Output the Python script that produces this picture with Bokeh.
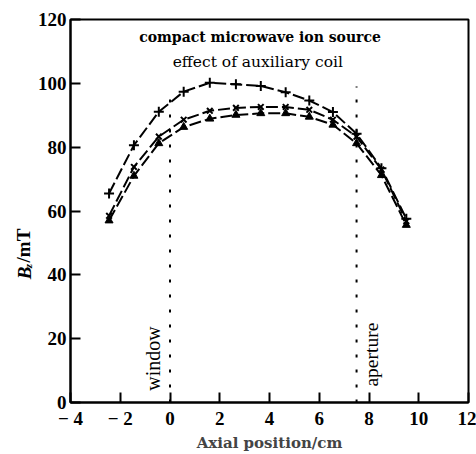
import math
from bokeh.plotting import figure
from bokeh.layouts import row
from bokeh.models import FixedTicker, Label, Range1d
from bokeh.core.properties import value
from bokeh.embed import file_html
from bokeh.resources import INLINE

# ---- data ----
x_pos = [-2.45, -1.45, -0.45, 0.55, 1.6, 2.65, 3.65, 4.65, 5.6, 6.55, 7.5, 8.5, 9.5]
b_plus = [65.5, 80.6, 91.1, 97.4, 100.2, 99.7, 99.2, 97.2, 94.6, 91.0, 84.2, 73.4, 57.6]
b_cross = [58.5, 73.8, 83.3, 88.6, 91.4, 92.3, 92.6, 92.6, 91.7, 88.6, 83.3, 73.0, 56.8]
b_tri = [57.0, 71.0, 81.2, 86.3, 88.9, 90.1, 90.6, 90.6, 89.5, 87.0, 81.2, 71.2, 55.6]

x_ticks = [-4, -2, 0, 2, 4, 6, 8, 10, 12]
y_ticks = [0, 20, 40, 60, 80, 100, 120]
window_x = 0.0
aperture_x = 7.5

FONT = "DejaVu Serif"
TFONT = "Liberation Serif"

LW = 34   # width of the strip holding the y-axis title
H = 454

p = figure(width=476 - LW, height=H, output_backend="svg", toolbar_location=None,
           x_range=Range1d(-4, 12), y_range=Range1d(0, 120),
           min_border_left=69 - LW, min_border_right=8, min_border_top=19, min_border_bottom=49)

p.xgrid.visible = False
p.ygrid.visible = False
p.outline_line_color = "black"
p.outline_line_width = 2
p.background_fill_color = "white"
p.border_fill_color = "white"

for ax in (p.xaxis[0], p.yaxis[0]):
    ax.axis_line_width = 2
    ax.axis_line_color = "black"
    ax.major_tick_in = 10
    ax.major_tick_out = 0
    ax.major_tick_line_width = 2
    ax.minor_tick_line_color = None
    ax.major_label_text_font = TFONT
    ax.major_label_text_font_style = "bold"
    ax.major_label_text_font_size = "19px"
    ax.major_label_text_color = "black"

p.xaxis.ticker = FixedTicker(ticks=x_ticks)
p.yaxis.ticker = FixedTicker(ticks=y_ticks)
p.xaxis.major_label_overrides = {-4: "\u2212 4", -2: "\u2212 2"}
p.xaxis.major_label_standoff = 5
p.yaxis.major_label_standoff = 4

p.xaxis.axis_label = "Axial position/cm"
p.xaxis.axis_label_text_font = FONT
p.xaxis.axis_label_text_font_style = "bold"
p.xaxis.axis_label_text_font_size = "15px"
p.xaxis.axis_label_standoff = 2
p.yaxis.axis_label = None

# dotted markers for window / aperture
p.segment(x0=[window_x, aperture_x], y0=[0, 0], x1=[window_x, aperture_x], y1=[97.8, 99.0],
          line_color="black", line_width=2, line_dash="3 12")

dash = "12 4"
# + series
p.line(x_pos, b_plus, line_color="black", line_width=2, line_dash=dash)
p.scatter(x_pos, b_plus, marker="cross", size=10, line_color="black", line_width=2)
# x series
p.line(x_pos, b_cross, line_color="black", line_width=2, line_dash=dash)
p.scatter(x_pos, b_cross, marker="x", size=8, line_color="black", line_width=2)
# triangle series
p.line(x_pos, b_tri, line_color="black", line_width=2, line_dash=dash)
p.scatter(x_pos, b_tri, marker="triangle", size=8, line_color="black",
          fill_color="black", line_width=1)

# texts in the plot
p.add_layout(Label(x=3.62, y=114.4, text="compact microwave ion source", text_font=FONT,
                   text_font_style="bold", text_font_size="14px", text_align="center",
                   text_baseline="middle", text_color="black"))
p.add_layout(Label(x=3.53, y=106.6, text="effect of auxiliary coil", text_font=FONT,
                   text_font_size="15.5px", text_align="center",
                   text_baseline="middle", text_color="black"))
p.add_layout(Label(x=-0.67, y=3.7, text="window", text_font=TFONT, angle=math.pi / 2,
                   text_font_size="20px", text_align="left", text_baseline="middle",
                   text_color="black"))
p.add_layout(Label(x=8.12, y=5.0, text="aperture", text_font=TFONT, angle=math.pi / 2,
                   text_font_size="19.5px", text_align="left", text_baseline="middle",
                   text_color="black"))

# strip on the left carrying the y-axis title  B_z / mT
q = figure(width=LW, height=H, output_backend="svg", toolbar_location=None,
           x_range=Range1d(0, LW), y_range=Range1d(0, H),
           x_axis_type=None, y_axis_type=None, min_border=0)
q.xgrid.visible = False
q.ygrid.visible = False
q.outline_line_color = None
q.background_fill_color = "white"
q.border_fill_color = "white"
q.text(x=[24], y=[H - 308], text=["B"], angle=math.pi / 2, text_font=value(TFONT),
       text_font_style="bold italic", text_font_size="19px", text_align="left",
       text_baseline="middle", text_color="black")
q.text(x=[27.5], y=[H - 295], text=["z"], angle=math.pi / 2, text_font=value(TFONT),
       text_font_style="bold italic", text_font_size="11px", text_align="left",
       text_baseline="middle", text_color="black")
q.text(x=[23], y=[H - 288], text=["/mT"], angle=math.pi / 2, text_font=value(TFONT),
       text_font_style="bold", text_font_size="19px", text_align="left",
       text_baseline="middle", text_color="black")

layout = row(q, p, spacing=0)
open("out.html", "w").write(file_html(layout, INLINE))
